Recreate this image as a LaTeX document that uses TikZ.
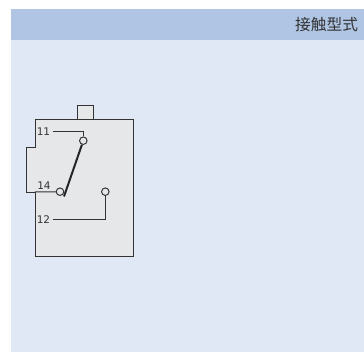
\documentclass[tikz,border=0pt]{standalone}
\usepackage{fontspec}
\setmainfont{DejaVu Sans}
\newfontfamily\cjk{Noto Sans CJK SC}
\usetikzlibrary{arrows}
\definecolor{panelblue}{HTML}{E1E8F5}
\definecolor{headblue}{HTML}{AFC5E3}
\definecolor{bodygrey}{HTML}{E6E7E9}
\definecolor{inkgrey}{HTML}{333333}
\begin{document}
\begin{tikzpicture}[-,x=1pt,y=-1pt,line width=1pt,draw=inkgrey,text=inkgrey]
    \tikzset{terminal/.style={circle,draw,fill=bodygrey,inner sep=0pt,minimum size=7.5pt,line width=1pt},
             pinlabel/.style={inner sep=0pt,font=\fontsize{10.5}{10.5}\selectfont}}
    \useasboundingbox (0,0) rectangle (364,352);
    \fill[panelblue] (11,9) rectangle (364,352);
    \fill[headblue] (11,9) rectangle (364,40);
    \node[anchor=east,inner sep=0pt,font=\cjk\fontsize{15.7}{15.7}\selectfont] (title) at (358.5,25) {接触型式};
    % housing
    \filldraw[fill=bodygrey] (77,119.5) -- (77,105.5) -- (93.5,105.5) -- (93.5,119.5);
    \filldraw[fill=bodygrey] (35,119.5) -- (133.5,119.5) -- (133.5,256.5) -- (35,256.5)
        -- (35,192.5) -- (26.5,192.5) -- (26.5,148) -- (35,148) -- cycle;
    \node[terminal] (t11) at (83.3,140.7) {};
    \node[terminal] (t14) at (60,191.7) {};
    \node[terminal] (t12) at (105.3,191.7) {};
    \node[pinlabel] (l11) at (43.5,132) {11};
    \node[pinlabel] (l14) at (44,186) {14};
    \node[pinlabel] (l12) at (43.5,220) {12};
    \coordinate (c11) at (t11 |- l11);
    \coordinate (c12) at (t12 |- l12);
    \coordinate (c14) at (35,192);
    \coordinate (pivot) at (64,196.5);
    \draw (l11.east) ++(2,0) -- (c11) -- (t11);
    \draw (l12.east) ++(2,0) -- (c12) -- (t12);
    \draw (c14) -- (t14);
    \draw[line width=2pt,draw=black!85] (t11) -- (pivot);
\end{tikzpicture}
\end{document}
